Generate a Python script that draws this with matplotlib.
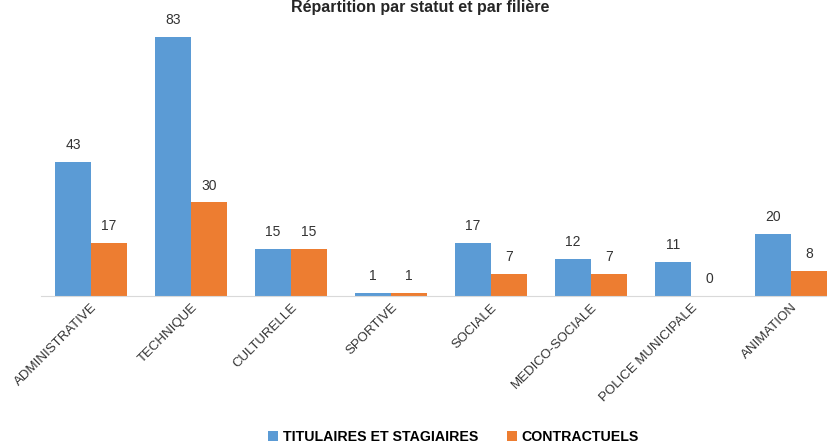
import numpy as np
import matplotlib.pyplot as plt

plt.rcParams['font.family'] = ['Liberation Sans', 'DejaVu Sans']

filieres = ['ADMINISTRATIVE', 'TECHNIQUE', 'CULTURELLE', 'SPORTIVE', 'SOCIALE',
            'MEDICO-SOCIALE', 'POLICE MUNICIPALE', 'ANIMATION']
titulaires = [43, 83, 15, 1, 17, 12, 11, 20]
contractuels = [17, 30, 15, 1, 7, 7, 0, 8]

bleu = '#5B9BD5'
orange = '#ED7D31'

fig = plt.figure(figsize=(8.28, 4.45), dpi=100)
# axe un peu plus large que l'image, comme dans l'original (coupé à droite)
ax = fig.add_axes([41/828, 1-296/445, 800/828, 276/445])

x = np.arange(len(filieres))
w = 0.36
b1 = ax.bar(x - w/2, titulaires, w, color=bleu, label='TITULAIRES ET STAGIAIRES')
b2 = ax.bar(x + w/2, contractuels, w, color=orange, label='CONTRACTUELS')

for bars in (b1, b2):
    for r in bars:
        h = r.get_height()
        ax.annotate(str(int(h)), (r.get_x() + r.get_width()/2, h),
                    xytext=(0, 7), textcoords='offset points',
                    ha='center', va='bottom', fontsize=10, color='#333333')

ax.set_xlim(-0.5, len(filieres) - 0.5)
ax.set_ylim(0, 88.4)
ax.set_yticks([])
ax.set_xticks(x)
ax.set_xticklabels(filieres, rotation=45, ha='right', rotation_mode='anchor',
                   fontsize=9.5, color='#333333')
ax.tick_params(axis='x', length=0, pad=4)
for s in ['top', 'right', 'left']:
    ax.spines[s].set_visible(False)
ax.spines['bottom'].set_color('#D9D9D9')

fig.text(0.507, 0.999, 'Répartition par statut et par filière', ha='center', va='top',
         fontsize=11.5, fontweight='bold', color='#262626')

fig.legend(loc='center', bbox_to_anchor=(0.548, 1-437/445), ncol=2, frameon=False,
           handlelength=0.7, handleheight=0.7, handletextpad=0.35, columnspacing=2.0,
           prop={'size': 10.2, 'weight': 'bold'})

fig.savefig('out.png', dpi=100)
